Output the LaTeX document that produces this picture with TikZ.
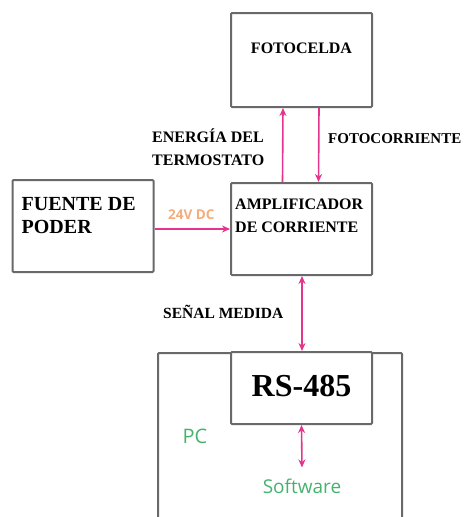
\documentclass[tikz,border=0pt]{standalone}
\usepackage{fontspec}
\setmainfont{Liberation Serif}
\newfontfamily\pcsans{Open Sans}
\usetikzlibrary{arrows.meta,positioning}
\definecolor{linkpink}{RGB}{228,52,140}
\definecolor{pcgreen}{RGB}{70,178,110}
\definecolor{dcorange}{RGB}{244,172,122}
\definecolor{boxgray}{RGB}{105,105,105}

\begin{document}
\begin{tikzpicture}[x=1pt, y=-1pt,
  block/.style={rectangle, draw=boxgray, line width=2pt, rounded corners=1pt, minimum width=141pt, minimum height=92pt, inner sep=0pt},
  title/.style={font=\fontsize{16}{23}\selectfont\bfseries, align=left, inner sep=0pt},
  green/.style={font=\pcsans\fontsize{19}{22}\selectfont, text=pcgreen, inner sep=0pt},
  link/.style={linkpink, line width=1.6pt},
  >={Stealth[length=8pt,width=7pt]}
]
\useasboundingbox (0,0) rectangle (468,517);
\clip (0,0) rectangle (468,517);

% Blocks
\node[block, minimum height=94pt] (foto) at (301.5,60) {};
\node[block, below of=foto, node distance=169pt] (amp) {};
\node[block, left of=amp, node distance=218.5pt, yshift=3pt] (fuente) {};
\node[block, minimum width=244pt, minimum height=190pt, anchor=north] (pc) at (280,352) {};
\node[block, below of=amp, node distance=159pt, minimum height=72pt, fill=white] (rs) {};

% Block texts
\node[title, yshift=12pt] (fototxt) at (foto.center) {FOTOCELDA};
\node[title, anchor=north west] (amptxt) at ([shift={(5pt,-17pt)}]amp.north west) {AMPLIFICADOR\\DE CORRIENTE};
\node[title, font=\fontsize{20}{23}\selectfont\bfseries, anchor=north west] (fuentetxt) at ([shift={(10pt,-18pt)}]fuente.north west) {FUENTE DE\\PODER};
\node[title, font=\fontsize{32}{36}\selectfont\bfseries, yshift=2pt] (rstxt) at (rs.center) {RS-485};
\node[green, font=\pcsans\fontsize{20}{22}\selectfont] (pctxt) at (195,436) {PC};
\node[green] (sw) at (302,486) {Software};

% Connector labels
\node[title, anchor=north west] (energia) at (152,129) {ENERGÍA DEL\\TERMOSTATO};
\node[title, font=\fontsize{15}{20}\selectfont\bfseries, anchor=north west] (corriente) at (328,133) {FOTOCORRIENTE};
\node[title, font=\fontsize{15.5}{20}\selectfont\bfseries, anchor=north west] (senal) at (163,305) {SEÑAL MEDIDA};
\node[font=\pcsans\fontsize{13.5}{16}\selectfont\bfseries, text=dcorange, inner sep=0pt, anchor=north west] (dc) at (168,210) {24V DC};

% Connections
\draw[link, ->] ([xshift=-19pt]amp.north) -- ([xshift=-18.5pt]foto.south);
\draw[link, ->] ([xshift=17.5pt]foto.south) -- ([xshift=17pt]amp.north);
\draw[link, ->] (fuente.east |- amp.west) -- (amp.west);
\draw[link, <->] ([xshift=0.5pt]amp.south) -- ([xshift=0.5pt]rs.north);
\draw[link, <->] (rs.south) -- ([yshift=11pt]sw.north);
\end{tikzpicture}
\end{document}
